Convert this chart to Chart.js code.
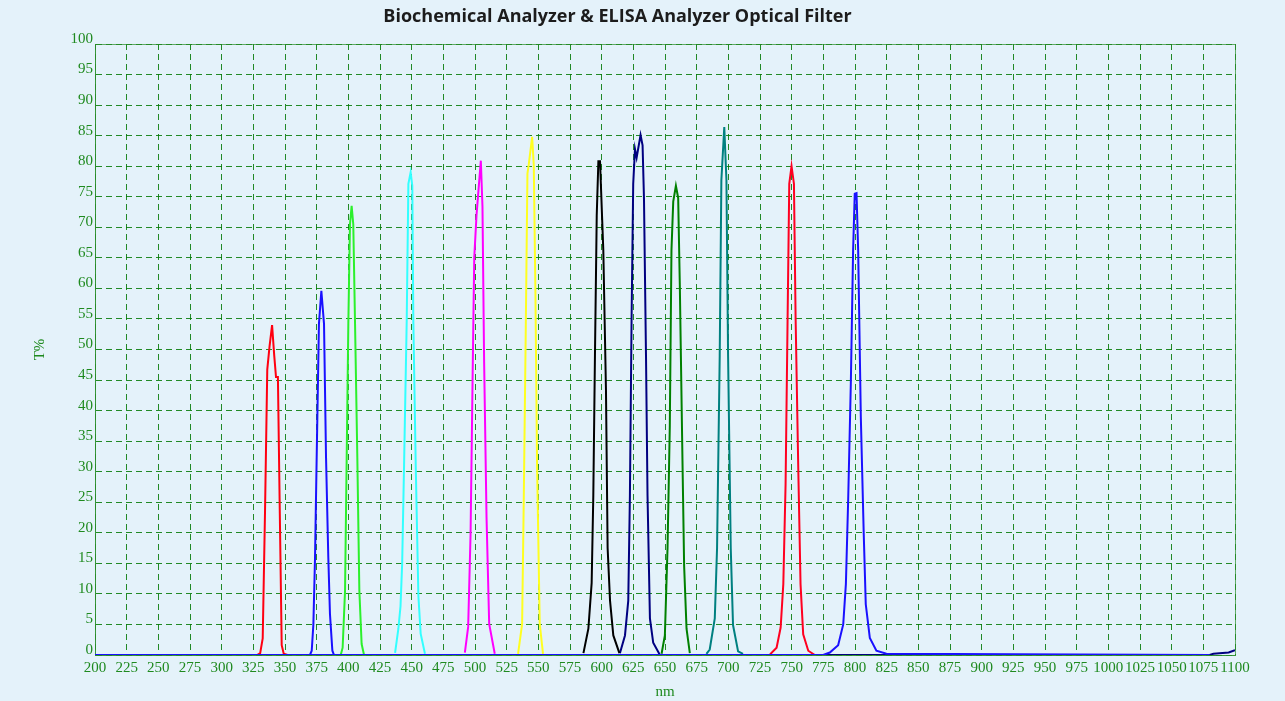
<!DOCTYPE html>
<html>
<head>
<meta charset="utf-8">
<title>Biochemical Analyzer & ELISA Analyzer Optical Filter</title>
<script src="https://cdn.jsdelivr.net/npm/chart.js@4.4.0/dist/chart.umd.min.js"></script>
<style>
html, body { margin: 0; padding: 0; background: #e4f2fa; }
</style>
</head>
<body>
<canvas id="myChart" width="1285" height="701"></canvas>
<script>
// wavelength (nm) / transmission (T%), one pair per filter
const nm340 = [328, 330.4, 332.4, 334.2, 336, 337.8, 339.8, 341.5, 342.9, 344.4, 345.9, 347.4, 349, 352];
const t340  = [0, 0.3, 2.7, 23.2, 46.7, 50.5, 54, 49, 45.5, 45.5, 23.2, 1.6, 0.2, 0];
const nm380 = [369.7, 371.1, 372.4, 373.7, 375, 376.8, 378.7, 380.8, 382.4, 384.2, 385.5, 387.4, 388.7];
const t380  = [0, 0.7, 5, 15.9, 32.3, 54.2, 59.6, 54.2, 32.3, 15.9, 6.7, 0.7, 0];
const nm405 = [394, 395.5, 397.4, 398.7, 400, 401.3, 402.6, 403.9, 405.3, 407.1, 408.7, 410.5, 412.4];
const t405  = [0, 1.2, 10.5, 32.3, 54.2, 70.5, 73.5, 70.5, 54.2, 32.3, 10.5, 1.8, 0];
const nm450 = [436.9, 439.5, 441.2, 442.5, 444, 446.1, 447.4, 449.2, 450.5, 451.3, 453.2, 455.3, 457.1, 460.5];
const t450  = [0.35, 4.3, 8, 15, 31.1, 54.8, 77.1, 79, 76.8, 54.8, 31.1, 9.7, 3.5, 0.2];
const nm505 = [492, 494.6, 496.5, 498.1, 499.4, 501.2, 504.6, 505.9, 507.2, 509.1, 511.2, 515.6];
const t505  = [0.4, 4.6, 19.8, 45.2, 65, 72, 80.9, 73.4, 48, 22.6, 5.1, 0.2];
const nm545 = [534, 537.2, 538.5, 540.1, 541.4, 542.4, 545.1, 546.4, 547.7, 549, 551.1, 553.7];
const t545  = [0.2, 5.1, 25.5, 53.7, 78.8, 80.2, 84.8, 80.2, 59.3, 31.1, 5.1, 0.2];
const nm600 = [585.6, 589.5, 592.1, 593.4, 594.7, 596.1, 597.4, 598.7, 601.3, 603.4, 604.7, 606.6, 609.2, 614];
const t600  = [0.3, 4.3, 11.8, 26.1, 49, 71.9, 80.8, 80.8, 66.2, 43.3, 17.5, 8.9, 3.2, 0.3];
const nm630 = [614.4, 618.4, 621, 622.3, 623.6, 624.9, 626.3, 627.6, 630.7, 632.3, 633.4, 635, 636.2, 638.1, 640.7, 646, 1080, 1083, 1095, 1100];
const t630  = [0.3, 3.2, 8.9, 26.1, 54.7, 77.1, 82.8, 81.4, 85.1, 83.4, 74.8, 49, 26.1, 6, 2, 0, 0, 0.2, 0.4, 0.8];
const nm660 = [647.3, 649.9, 652, 653.8, 655.1, 656.5, 658.6, 660.4, 661.7, 663.8, 665.1, 667, 669.6];
const t660  = [0.2, 3.2, 17.5, 37.6, 66.2, 74.2, 76.8, 74.8, 60.5, 31.8, 14.6, 4.3, 0.3];
const nm700 = [682.7, 685.3, 689.3, 691.1, 693.2, 694.5, 696.8, 698.5, 699.8, 701.9, 703.7, 707.7, 711.6];
const t700  = [0.2, 0.9, 6, 17.5, 49, 77.7, 86.4, 77.7, 49, 17.5, 4.9, 0.6, 0.2];
const nm750 = [732.9, 738.1, 741.3, 743.4, 745.2, 746.8, 748.1, 749.9, 751.8, 753.1, 755.2, 757, 759.1, 763.1, 768.3];
const t750  = [0.1, 1.2, 4.5, 11.6, 28, 55.3, 77.1, 80, 77.1, 55.3, 30.7, 11.6, 3.4, 0.7, 0];
const nm800 = [200, 774.9, 780.1, 786.7, 790.7, 792.8, 794.6, 796.7, 798.5, 799.8, 801.2, 802.5, 804.6, 806.9, 808.5, 811.7, 816.9, 824.8, 1080];
const t800  = [0, 0, 0.4, 1.6, 5, 11.6, 25.3, 44.4, 66.2, 75.5, 75.6, 66.2, 38.9, 19.8, 8.3, 2.8, 0.7, 0.2, 0];

const xTicks = [200, 1100, 25];
const yTicks = [0, 100, 5];

const green = '#1f8a1f';
const gridColor = 'rgba(0,120,0,0.85)';
const serif = '"Liberation Serif", "DejaVu Serif", serif';

function pts(xs, ys) {
    let out = [];
    for (let i = 0; i < xs.length; i++) {
        out.push({ x: xs[i], y: ys[i] });
    }
    return out;
}

// first entry is drawn on top
const filters = [
    [nm800, t800, '#1a10ff'],
    [nm340, t340, '#ff0010'],
    [nm380, t380, '#1a10ff'],
    [nm405, t405, '#2cf02c'],
    [nm450, t450, '#33ffff'],
    [nm505, t505, '#ff00ff'],
    [nm545, t545, '#ffff20'],
    [nm600, t600, '#000000'],
    [nm630, t630, '#000080'],
    [nm660, t660, '#008000'],
    [nm700, t700, '#008080'],
    [nm750, t750, '#ff0020']
];

let datasets = filters.map(f => ({
    data: pts(f[0], f[1]),
    borderColor: f[2],
    borderWidth: 2,
    pointRadius: 0,
    tension: 0,
    fill: false
}));

const bgPlugin = {
    id: 'bg',
    beforeDraw(chart) {
        const ctx = chart.ctx;
        ctx.save();
        ctx.fillStyle = '#e4f2fa';
        ctx.fillRect(0, 0, chart.width, chart.height);
        ctx.restore();
    },
    beforeDatasetsDraw(chart) {
        const a = chart.chartArea;
        const ctx = chart.ctx;
        ctx.save();
        ctx.strokeStyle = 'rgba(40,140,40,0.7)';
        ctx.lineWidth = 1;
        ctx.strokeRect(a.left + 0.5, a.top + 0.5, a.right - a.left, a.bottom - a.top);
        ctx.restore();
    }
};

let ctx = document.getElementById('myChart').getContext('2d');
let myChart = new Chart(ctx, {
    type: 'line',
    data: { datasets: datasets },
    plugins: [bgPlugin],
    options: {
        responsive: false,
        animation: false,
        layout: { padding: { left: 0, right: 50, top: 0, bottom: 0 } },
        plugins: {
            legend: { display: false },
            tooltip: { enabled: false },
            title: {
                display: true,
                text: 'Biochemical Analyzer & ELISA Analyzer Optical Filter',
                color: '#1c1c1c',
                font: { family: '"Open Sans", sans-serif', size: 18, weight: 'bold' },
                padding: { top: 6, bottom: 16.4 }
            }
        },
        scales: {
            x: {
                type: 'linear',
                min: xTicks[0],
                max: xTicks[1],
                ticks: {
                    stepSize: xTicks[2],
                    autoSkip: false,
                    maxRotation: 0,
                    color: green,
                    font: { family: serif, size: 15 },
                    padding: 4,
                    callback: v => String(v)
                },
                grid: { color: gridColor, lineWidth: 1, drawTicks: false },
                border: { display: true, color: 'rgba(40,140,40,0.7)', dash: [6, 4] },
                title: {
                    display: true, text: 'nm', color: green,
                    font: { family: serif, size: 15 },
                    padding: { top: 4, bottom: 0 }
                },
                afterFit: s => { s.height = 46; }
            },
            y: {
                min: yTicks[0],
                max: yTicks[1],
                ticks: {
                    stepSize: yTicks[2],
                    color: green,
                    font: { family: serif, size: 15 },
                    padding: 2,
                    labelOffset: -5,
                    callback: v => String(v)
                },
                grid: { color: gridColor, lineWidth: 1, drawTicks: false },
                border: { display: true, color: 'rgba(40,140,40,0.7)', dash: [6, 4] },
                title: {
                    display: true, text: 'T%', color: green,
                    font: { family: serif, size: 15 },
                    padding: { top: 31, bottom: 0 }
                },
                afterFit: s => { s.width = 95; }
            }
        }
    }
});
</script>
</body>
</html>
